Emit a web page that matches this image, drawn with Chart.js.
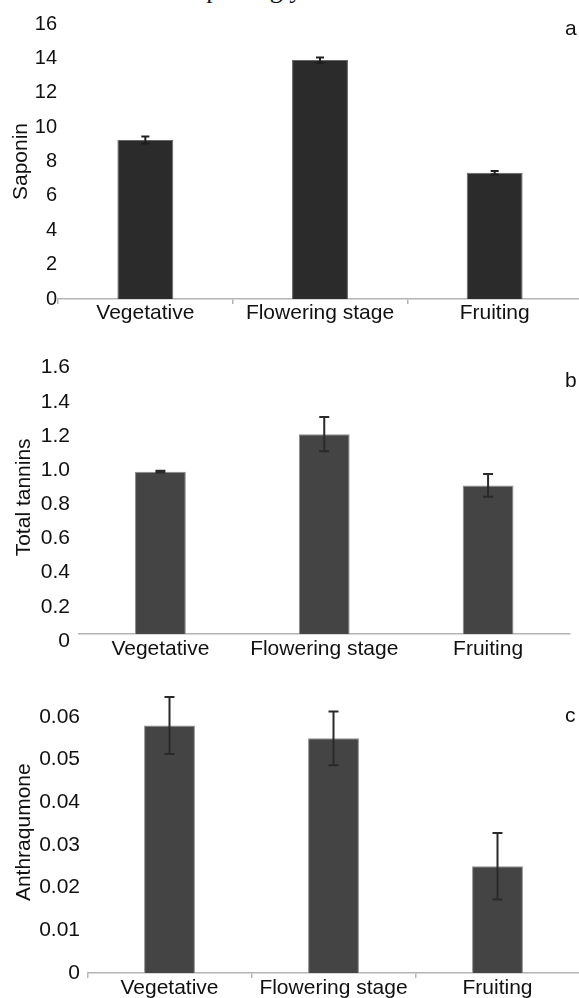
<!DOCTYPE html>
<html>
<head>
<meta charset="utf-8">
<script src="https://cdn.jsdelivr.net/npm/chart.js@4/dist/chart.umd.min.js"></script>
<style>
  html, body { margin: 0; padding: 0; background: #fff; width: 579px; height: 998px; overflow: hidden; }
  body { position: relative; font-family: "Liberation Sans", Arial, sans-serif; }
  .panel { position: absolute; left: 0; width: 600px; }
  .tag { position: absolute; font-size: 21px; color: #111; line-height: 21px; }
  .cut { position: absolute; left: 176px; top: -23px; font-family: "Liberation Serif", serif; font-size: 26px; line-height: 26px; color: #111; white-space: nowrap; }
</style>
</head>
<body>
<div class="cut">respecting y</div>
<div class="panel" style="top:0;height:330px"><canvas id="chart-a"></canvas></div>
<div class="panel" style="top:330px;height:340px"><canvas id="chart-b"></canvas></div>
<div class="panel" style="top:670px;height:328px"><canvas id="chart-c"></canvas></div>
<div class="tag" style="left:565px;top:17px">a</div>
<div class="tag" style="left:565px;top:369px">b</div>
<div class="tag" style="left:565px;top:704px">c</div>
<script>
(function () {
  "use strict";

  const categories = ["Vegetative", "Flowering stage", "Fruiting"];

  const saponin = [9.25, 13.9, 7.35];
  const saponinErr = [0.2, 0.15, 0.1];

  const tannins = [0.95, 1.17, 0.87];
  const tanninsErr = [0.005, 0.1, 0.066];

  const anthraquinone = [0.058, 0.055, 0.025];
  const anthraquinoneErr = [0.0067, 0.0063, 0.0078];

  const FONT = "'Liberation Sans', Arial, sans-serif";
  const AXIS_GRAY = "#b4b4b4";

  // draws the +/- error whiskers from the dataset's err array
  const errorBars = {
    id: "errorBars",
    afterDatasetsDraw(chart, args, opts) {
      const ctx = chart.ctx;
      const yScale = chart.scales.y;
      const ds = chart.data.datasets[0];
      const meta = chart.getDatasetMeta(0);
      ctx.save();
      ctx.strokeStyle = opts.color;
      ctx.lineWidth = opts.width;
      meta.data.forEach((bar, i) => {
        const v = ds.data[i];
        const e = ds.err[i];
        const top = yScale.getPixelForValue(v + e);
        const bot = yScale.getPixelForValue(v - e);
        const half = opts.cap / 2;
        ctx.beginPath();
        ctx.moveTo(bar.x, top);
        ctx.lineTo(bar.x, bot);
        ctx.moveTo(bar.x - half, top);
        ctx.lineTo(bar.x + half, top);
        ctx.moveTo(bar.x - half, bot);
        ctx.lineTo(bar.x + half, bot);
        ctx.stroke();
      });
      ctx.restore();
    },
  };

  function makeChart(id, cfg) {
    const el = document.getElementById(id);
    return new Chart(el, {
      type: "bar",
      data: {
        labels: categories,
        datasets: [
          {
            data: cfg.values,
            err: cfg.errors,
            backgroundColor: cfg.barColor,
            borderColor: cfg.barEdge,
            borderWidth: 1,
            barPercentage: cfg.barPct,
            categoryPercentage: 1,
          },
        ],
      },
      options: {
        responsive: true,
        maintainAspectRatio: false,
        animation: false,
        layout: { padding: { top: cfg.padTop, right: cfg.padRight, left: 0, bottom: 0 } },
        plugins: {
          legend: { display: false },
          tooltip: { enabled: false },
          errorBars: { color: cfg.errColor, width: 2, cap: cfg.cap },
        },
        scales: {
          x: {
            border: { display: true, color: AXIS_GRAY, width: 1.5 },
            grid: {
              display: true,
              drawOnChartArea: false,
              drawTicks: cfg.xTicks,
              tickLength: 5,
              color: AXIS_GRAY,
              lineWidth: 1.5,
            },
            ticks: {
              color: "#111",
              font: { family: FONT, size: 21 },
              padding: cfg.xPad,
              maxRotation: 0,
              autoSkip: false,
            },
            afterFit: (s) => { s.height = cfg.xHeight; },
          },
          y: {
            min: 0,
            max: cfg.max,
            border: { display: false },
            grid: { display: false, drawTicks: false },
            ticks: {
              stepSize: cfg.step,
              color: "#111",
              font: { family: FONT, size: cfg.tickSize },
              padding: cfg.yPad,
              labelOffset: cfg.labelOffset || 0,
              callback: cfg.fmt,
            },
            afterBuildTicks: (s) => {
              s.ticks = s.ticks.filter((t) => t.value <= cfg.lastTick + 1e-9);
            },
            title: {
              display: true,
              text: cfg.title,
              color: "#111",
              font: { family: FONT, size: 21 },
              padding: { top: cfg.titlePad, bottom: 0 },
            },
            afterFit: (s) => { s.width = cfg.yWidth; },
          },
        },
      },
      plugins: [errorBars],
    });
  }

  makeChart("chart-a", {
    values: saponin,
    errors: saponinErr,
    title: "Saponin",
    barColor: "#2b2b2b",
    barEdge: "#666",
    errColor: "#1e1e1e",
    barPct: 0.32,
    cap: 8,
    max: 16,
    step: 2,
    lastTick: 16,
    tickSize: 20,
    fmt: (v) => String(v),
    padTop: 24,
    padRight: 18,
    yWidth: 58,
    yPad: 1,
    titlePad: 9,
    xHeight: 31,
    xTicks: true,
    xPad: -3,
  });

  makeChart("chart-b", {
    values: tannins,
    errors: tanninsErr,
    title: "Total tannins",
    barColor: "#444444",
    barEdge: "#8a8a8a",
    errColor: "#2a2a2a",
    barPct: 0.31,
    cap: 10,
    max: 1.6,
    step: 0.2,
    lastTick: 1.6,
    tickSize: 21,
    labelOffset: 7,
    fmt: (v) => (v === 0 ? "0" : v.toFixed(1)),
    padTop: 30.7,
    padRight: 30,
    yWidth: 78.5,
    yPad: 8.5,
    titlePad: 12,
    xHeight: 36,
    xTicks: false,
    xPad: 3,
  });

  makeChart("chart-c", {
    values: anthraquinone,
    errors: anthraquinoneErr,
    title: "Anthraqumone",
    barColor: "#444444",
    barEdge: "#8a8a8a",
    errColor: "#2a2a2a",
    barPct: 0.31,
    cap: 10,
    max: 0.066,
    step: 0.01,
    lastTick: 0.06,
    tickSize: 21,
    fmt: (v) => (v === 0 ? "0" : v.toFixed(2)),
    padTop: 21.4,
    padRight: 20.5,
    yWidth: 87.5,
    yPad: 7.5,
    titlePad: 11.5,
    xHeight: 25,
    xTicks: true,
    xPad: -2,
  });
})();
</script>
</body>
</html>
